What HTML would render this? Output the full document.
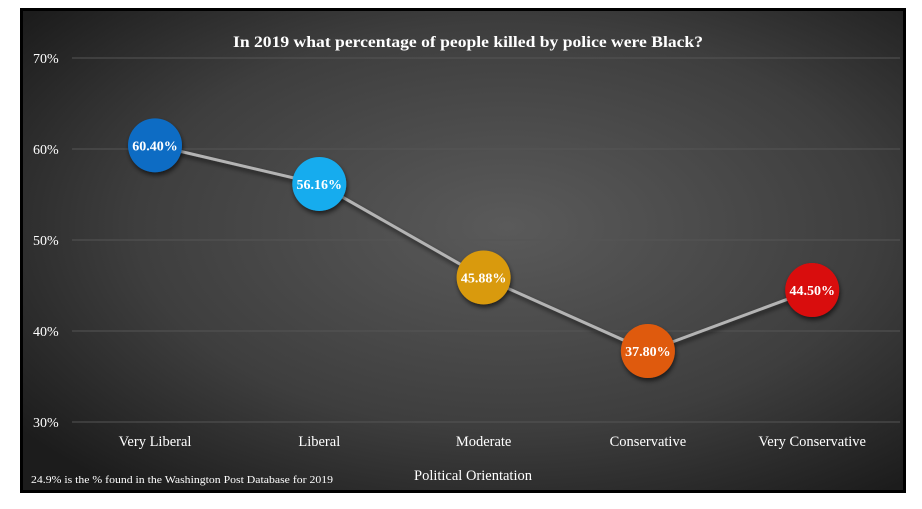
<!DOCTYPE html>
<html><head><meta charset="utf-8"><style>
html,body{margin:0;padding:0;background:#fff;width:922px;height:509px;overflow:hidden}
#frame{position:absolute;left:20px;top:8px;width:886px;height:485px;background:#000}
svg{position:absolute;left:0;top:0}
text{font-family:"Liberation Serif",serif}
</style></head><body>
<div id="frame"></div>
<svg id="chart" width="922" height="509">
<defs>
<radialGradient id="bg" cx="0.55" cy="0.45" r="0.7">
<stop offset="0" stop-color="#5a5a5a"/><stop offset="0.6" stop-color="#3e3e3e"/><stop offset="1" stop-color="#1c1c1c"/>
</radialGradient>
<filter id="sh" x="-50%" y="-50%" width="200%" height="200%"><feDropShadow dx="1" dy="3" stdDeviation="2.5" flood-color="#000" flood-opacity="0.6"/></filter>
</defs>
<rect x="23" y="11" width="880" height="479" fill="url(#bg)"/>
<text x="468" y="47" text-anchor="middle" fill="#fff" font-size="15.5" font-weight="bold" textLength="470" lengthAdjust="spacingAndGlyphs">In 2019 what percentage of people killed by police were Black?</text>
<g id="grid"></g><g id="ylabels"></g><g id="line"></g><g id="points"></g><g id="xlabels"></g>
<text x="473" y="480" text-anchor="middle" fill="#fff" font-size="14.5">Political Orientation</text>
<text x="31" y="483" fill="#fff" font-size="10.5" textLength="302" lengthAdjust="spacingAndGlyphs">24.9% is the % found in the Washington Post Database for 2019</text>
</svg>
<script>
const categories=["Very Liberal","Liberal","Moderate","Conservative","Very Conservative"];
const values=[60.40,56.16,45.88,37.80,44.50];
const colors=["#0b6cc4","#14acee","#d99a0c","#df5a0c","#d90b0b"];
const yTicks=[30,40,50,60,70];
const NS="http://www.w3.org/2000/svg";
const y=v=>422-(v-30)*9.1;
const x=i=>155+i*164.3;
function mk(t,a,p){const e=document.createElementNS(NS,t);for(const k in a)e.setAttribute(k,a[k]);p.appendChild(e);return e;}
const grid=document.getElementById('grid'),yl=document.getElementById('ylabels');
yTicks.forEach(t=>{
 const l=mk('line',{x1:72,x2:900,y1:y(t),y2:y(t),stroke:'#555','stroke-width':1},grid);
 
 
 const tx=mk('text',{x:33,y:y(t)+5,fill:'#fff','font-size':14},yl);tx.textContent=t+'%';
 
 
});
const pts=values.map((v,i)=>x(i)+','+y(v)).join(' ');
const pl=mk('polyline',{points:pts,fill:'none',stroke:'#b4b4b4','stroke-width':3,filter:'url(#sh)'},document.getElementById('line'));


const pg=document.getElementById('points'),xg=document.getElementById('xlabels');
values.forEach((v,i)=>{
 const c=mk('circle',{cx:x(i),cy:y(v),r:27,fill:colors[i],filter:'url(#sh)'},pg);
 
 
 const t=mk('text',{x:x(i),y:y(v)+5,'text-anchor':'middle',fill:'#fff','font-size':14,'font-weight':'bold'},pg);
 t.textContent=v.toFixed(2)+'%';
 
 
 const xl=mk('text',{x:x(i),y:446,'text-anchor':'middle',fill:'#fff','font-size':14.5},xg);
 xl.textContent=categories[i];
 
 
});
</script>
</body></html>
